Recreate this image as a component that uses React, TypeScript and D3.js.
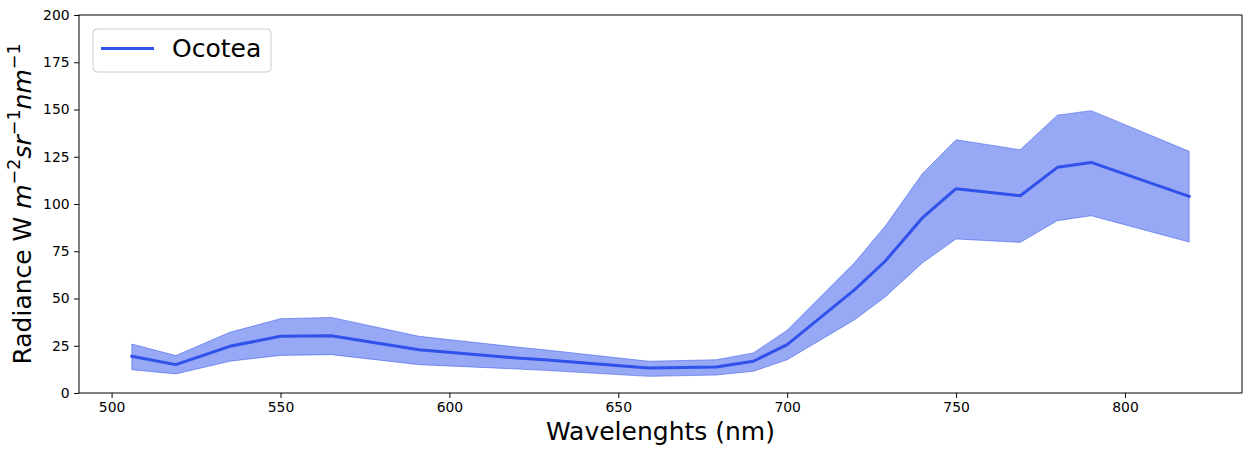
import React, { useEffect, useRef } from "react";
import * as d3 from "d3";

const wavelengths = [506, 519, 535, 550, 565, 591, 620, 628, 659, 679, 690, 700, 720, 729, 740, 750, 769, 780, 790, 819];
const meanValues = [19.4, 15, 24.7, 30, 30.3, 22.9, 18.5, 17.6, 13.2, 13.8, 16.8, 25.6, 54.7, 69.7, 92.6, 108.1, 104.4, 119.4, 122, 104];
const upperValues = [25.9, 19.8, 32.1, 39.3, 40, 30, 24.3, 22.9, 16.8, 17.6, 21.2, 33.2, 69.1, 88.2, 116, 134, 128.7, 147, 149.4, 127.9];
const lowerValues = [12.3, 10.1, 16.8, 19.9, 20.3, 15, 12.7, 12, 8.8, 9.5, 11.5, 17.6, 38.8, 50.8, 68.8, 81.5, 79.7, 91.2, 93.8, 79.9];
const xTicks = [500, 550, 600, 650, 700, 750, 800];
const yTicks = [0, 25, 50, 75, 100, 125, 150, 175, 200];
const seriesName = "Ocotea";

const W = 1251;
const H = 456;
const M = { left: 79, right: 1242, top: 15, bottom: 393 };
const COLOR = "#3052ea";
const FONT = "DejaVu Sans, sans-serif";

export default function App() {
  const ref = useRef<SVGSVGElement | null>(null);

  useEffect(() => {
    const svg = d3.select(ref.current);
    svg.selectAll("*").remove();

    const xMin = d3.min(wavelengths)!;
    const xMax = d3.max(wavelengths)!;
    const pad = (xMax - xMin) * 0.05;
    const x = d3.scaleLinear().domain([xMin - pad, xMax + pad]).range([M.left, M.right]);
    const y = d3.scaleLinear().domain([0, 200]).range([M.bottom, M.top]);

    const data = wavelengths.map((w, i) => ({ w, m: meanValues[i], u: upperValues[i], l: lowerValues[i] }));

    svg.append("rect").attr("x", 0).attr("y", 0).attr("width", W).attr("height", H).attr("fill", "white");

    const area = d3.area<any>().x((d) => x(d.w)).y0((d) => y(d.l)).y1((d) => y(d.u));
    svg.append("path").datum(data).attr("d", area)
      .attr("fill", COLOR).attr("fill-opacity", 0.5)
      .attr("stroke", COLOR).attr("stroke-opacity", 0.5).attr("stroke-width", 1);

    const line = d3.line<any>().x((d) => x(d.w)).y((d) => y(d.m));
    svg.append("path").datum(data).attr("d", line)
      .attr("fill", "none").attr("stroke", COLOR).attr("stroke-width", 3)
      .attr("stroke-linejoin", "round").attr("stroke-linecap", "square");

    // frame
    svg.append("rect").attr("x", M.left).attr("y", M.top)
      .attr("width", M.right - M.left).attr("height", M.bottom - M.top)
      .attr("fill", "none").attr("stroke", "black").attr("stroke-width", 1);

    const xAxis = d3.axisBottom(x).tickValues(xTicks).tickSize(4.9).tickPadding(4.5).tickFormat(d3.format("d") as any);
    const gx = svg.append("g").attr("transform", `translate(0,${M.bottom})`).call(xAxis);
    gx.select(".domain").remove();
    gx.selectAll("text").attr("font-family", FONT).attr("font-size", 13.9).attr("fill", "black");
    gx.selectAll("line").attr("stroke", "black");

    const yAxis = d3.axisLeft(y).tickValues(yTicks).tickSize(4.9).tickPadding(4.5).tickFormat(d3.format("d") as any);
    const gy = svg.append("g").attr("transform", `translate(${M.left},0)`).call(yAxis);
    gy.select(".domain").remove();
    gy.selectAll("text").attr("font-family", FONT).attr("font-size", 13.9).attr("fill", "black");
    gy.selectAll("line").attr("stroke", "black");

    // x label
    svg.append("text").attr("x", (M.left + M.right) / 2).attr("y", 440)
      .attr("text-anchor", "middle").attr("font-family", FONT).attr("font-size", 25)
      .attr("fill", "black").text("Wavelenghts (nm)");

    // y label with mathtext-like superscripts
    const yl = svg.append("text")
      .attr("transform", `translate(31,${(M.top + M.bottom) / 2}) rotate(-90)`)
      .attr("text-anchor", "middle").attr("font-family", FONT).attr("font-size", 25).attr("fill", "black");
    yl.append("tspan").text("Radiance W ");
    const parts: [string, string][] = [["m", "\u22122"], ["sr", "\u22121"], ["nm", "\u22121"]];
    parts.forEach(([base, sup], i) => {
      yl.append("tspan").attr("font-style", "italic").attr("dy", i === 0 ? 0 : 11).text(base);
      yl.append("tspan").attr("font-size", 17.5).attr("dy", -11).text(sup);
    });

    // legend
    const lg = svg.append("g");
    lg.append("rect").attr("x", 93).attr("y", 29).attr("width", 178).attr("height", 43)
      .attr("rx", 4).attr("fill", "white").attr("fill-opacity", 0.8)
      .attr("stroke", "#cccccc").attr("stroke-width", 1);
    lg.append("line").attr("x1", 101).attr("x2", 154).attr("y1", 48.5).attr("y2", 48.5)
      .attr("stroke", COLOR).attr("stroke-width", 3);
    lg.append("text").attr("x", 172).attr("y", 57).attr("font-family", FONT).attr("font-size", 25)
      .attr("fill", "black").text(seriesName);
  }, []);

  return (
    <svg ref={ref} width={W} height={H} style={{ position: "absolute", left: 0, top: 0 }} />
  );
}
